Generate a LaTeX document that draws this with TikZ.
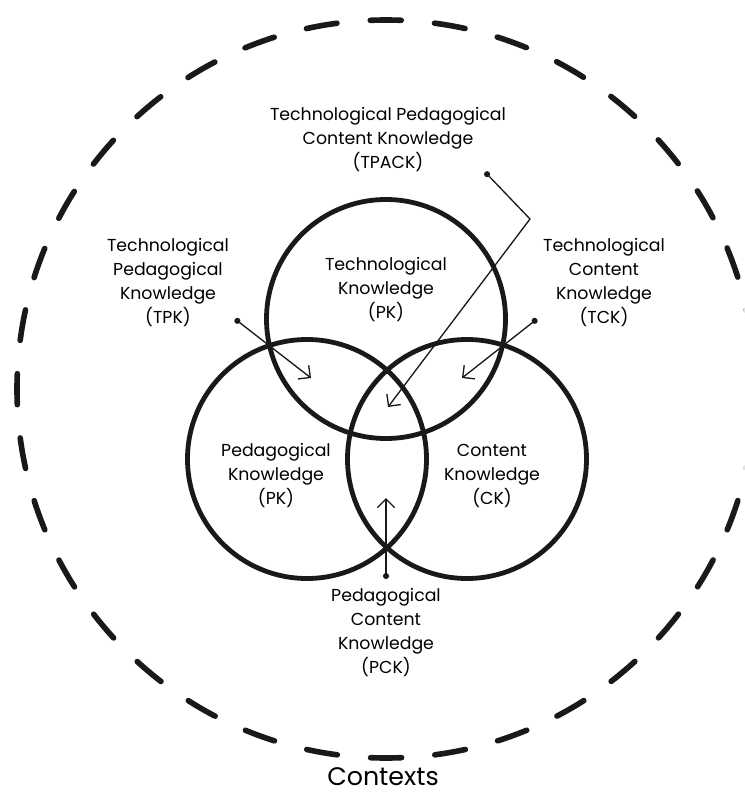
\documentclass[tikz,border=0pt]{standalone}
\usepackage{fontspec}
\setmainfont{Poppins}
\usetikzlibrary{arrows.meta}

\begin{document}
\begin{tikzpicture}[
  x=0.75pt, y=-0.75pt,
  lbl/.style={align=center, inner sep=0pt, text=black,
              font=\fontsize{13}{18}\selectfont},
  ring/.style={draw=black!90, line width=3.6pt},
  ctxring/.style={draw=black!90, line width=4.2pt, line cap=round,
                  dash pattern=on 23.25pt off 25.05pt, dash phase=11.6pt},
  ptr/.style={{Circle[length=4.5pt]}-{Straight Barb[length=6.5pt, width=13pt]},
              draw=black!90, line width=1pt}
]
\clip (0,0) rectangle (744,796);

% ======================================================== context ring
\draw[ctxring] (386,389) circle[radius=369];
\node[lbl, font=\fontsize{19}{24}\selectfont] (ctx) at (383,777) {Contexts};

% ======================================================== the three circles
\draw[ring] (386,319) circle[radius=119.5];
\draw[ring] (307,459) circle[radius=119.5];
\draw[ring] (467,459) circle[radius=119.5];

\node[lbl] (tk) at (386,290) {Technological\\ Knowledge\\ (PK)};
\node[lbl] (pk) at (276,476) {Pedagogical\\ Knowledge\\ (PK)};
\node[lbl] (ck) at (492,476) {Content\\ Knowledge\\ (CK)};

% ======================================================== outer labels
\node[lbl] (tpack) at (388,140) {Technological Pedagogical\\ Content Knowledge\\ (TPACK)};
\node[lbl] (tpk) at (168,283) {Technological\\ Pedagogical\\ Knowledge\\ (TPK)};
\node[lbl] (tck) at (604,283) {Technological\\ Content\\ Knowledge\\ (TCK)};
\node[lbl] (pck) at (386,633) {Pedagogical\\ Content\\ Knowledge\\ (PCK)};

% ======================================================== pointers
\coordinate (tpk-dot) at (235,319);   \coordinate (tpk-tip) at (311,378);
\coordinate (tck-dot) at (537,319);   \coordinate (tck-tip) at (462,378);
\coordinate (tpack-dot) at (485,172); \coordinate (tpack-bend) at (530,219);
\coordinate (tpack-tip) at (388,407);
\coordinate (pck-dot) at (386,579);   \coordinate (pck-tip) at (386,498);

\draw[ptr] (tpk-dot) -- (tpk-tip);
\draw[ptr] (tck-dot) -- (tck-tip);
\draw[ptr] (tpack-dot) -- (tpack-bend) -- (tpack-tip);
\draw[ptr] (pck-dot) -- (pck-tip);

\end{tikzpicture}
\end{document}
